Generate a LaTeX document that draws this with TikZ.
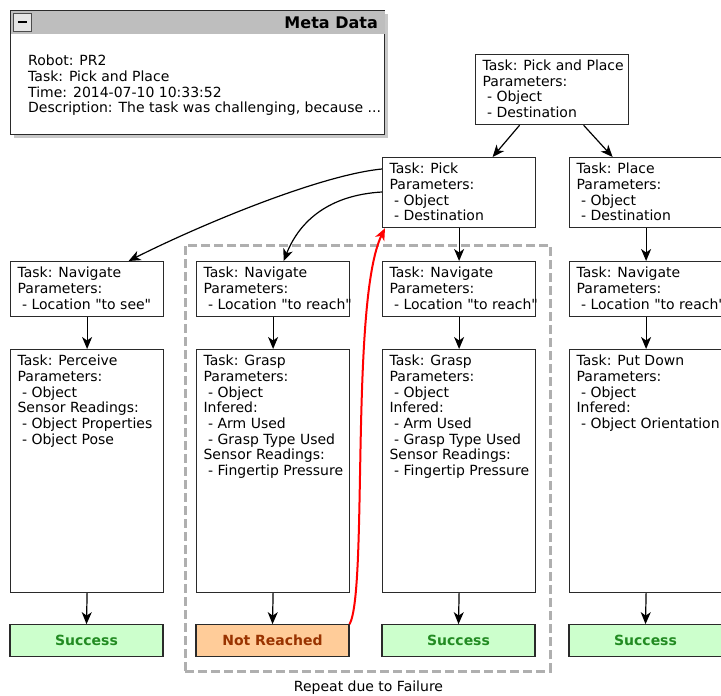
\documentclass[tikz,border=0pt]{standalone}
\usepackage{fontspec}
\setmainfont{DejaVu Sans}
\usetikzlibrary{arrows.meta}
\definecolor{succfill}{HTML}{CCFFCC}
\definecolor{succtext}{HTML}{228B22}
\definecolor{failfill}{HTML}{FFCC99}
\definecolor{failtext}{HTML}{993300}
\definecolor{bordercol}{HTML}{2A2A2A}
\definecolor{titlebar}{HTML}{BEBEBE}
\definecolor{shadowcol}{HTML}{C8C8C8}
\definecolor{framecol}{HTML}{AFAFAF}
\newcommand\taskbody[3]{\begin{minipage}[t][#1][t]{139bp}\raggedright\rule{0pt}{16bp}\mbox{#2}#3\end{minipage}}
\newcommand\bul[1]{\\\mbox{\hspace*{0.32em}- #1}}
\newcommand\hd[1]{\\\mbox{#1}}
\begin{document}
\begin{tikzpicture}[x=1bp,y=-1bp, font=\fontsize{14bp}{15.7bp}\selectfont,
 task/.style={draw=bordercol, line width=1.2bp, fill=white, inner xsep=7bp, inner ysep=0pt, anchor=north west},
 result/.style={draw=bordercol, line width=1.2bp, minimum width=153bp, minimum height=31.5bp, inner sep=0pt, font=\fontsize{14bp}{15.7bp}\selectfont\bfseries},
 success/.style={result, fill=succfill, text=succtext},
 failure/.style={result, fill=failfill, text=failtext},
 arr/.style={-{Stealth[length=12bp,width=10bp,inset=3.5bp]}, line width=1.2bp, draw=black},
 redarr/.style={-{Stealth[length=12bp,width=10bp,inset=3.5bp]}, line width=2bp, draw=red},
]
\useasboundingbox (0,0) rectangle (721,696);

% meta data panel
\fill[shadowcol] (14,14) rectangle (388,138);
\node[draw=bordercol, line width=1.2bp, fill=white, minimum width=374bp, minimum height=124bp, anchor=north west, inner sep=0pt] (meta) at (10,10) {};
\fill[titlebar] ([shift={(0.6bp,-0.6bp)}]meta.north west) rectangle ([shift={(-0.6bp,-24bp)}]meta.north east);
\node[draw=gray!60!black, line width=0.8bp, fill=gray!20, minimum size=18bp, inner sep=0pt, anchor=north west] (collapse) at (13,13) {};
\draw[line width=2bp] ([xshift=-4.5bp]collapse.center) -- ([xshift=4.5bp]collapse.center);
\node[anchor=base east, inner sep=0pt, font=\fontsize{16bp}{18bp}\selectfont\bfseries] (metatitle) at (378,28.3) {Meta Data};
\node[anchor=base west, inner sep=0pt] (metabody) at (28,65.7) {\begin{minipage}[t]{355bp}Robot: PR2\\Task: Pick and Place\\Time: 2014-07-10 10:33:52\\\mbox{Description: The task was challenging, because ...}\end{minipage}};

% repeat frame
\node[draw=framecol, line width=2.5bp, dash pattern=on 9bp off 4bp, minimum width=365bp, minimum height=426bp, anchor=north west, inner sep=0pt] (repeatframe) at (184,244) {};
\node (repeatlabel) at (368.5,688) {Repeat due to Failure};

% tasks
\node[task] (top) at (475,54) {\taskbody{70bp}{Task: Pick and Place}{\hd{Parameters:}\bul{Object}\bul{Destination}}};
\node[task] (pick) at (382,157) {\taskbody{70bp}{Task: Pick}{\hd{Parameters:}\bul{Object}\bul{Destination}}};
\node[task] (place) at (569,157) {\taskbody{70bp}{Task: Place}{\hd{Parameters:}\bul{Object}\bul{Destination}}};

\node[task] (nav1) at (10,261) {\taskbody{55bp}{Task: Navigate}{\hd{Parameters:}\bul{Location \textquotedbl to see\textquotedbl}}};
\node[task] (nav2) at (196,261) {\taskbody{55bp}{Task: Navigate}{\hd{Parameters:}\bul{Location \textquotedbl to reach\textquotedbl}}};
\node[task] (nav3) at (382,261) {\taskbody{55bp}{Task: Navigate}{\hd{Parameters:}\bul{Location \textquotedbl to reach\textquotedbl}}};
\node[task] (nav4) at (569,261) {\taskbody{55bp}{Task: Navigate}{\hd{Parameters:}\bul{Location \textquotedbl to reach\textquotedbl}}};

\node[task] (perceive) at (10,349) {\taskbody{243bp}{Task: Perceive}{\hd{Parameters:}\bul{Object}\hd{Sensor Readings:}\bul{Object Properties}\bul{Object Pose}}};
\node[task] (grasp1) at (196,349) {\taskbody{243bp}{Task: Grasp}{\hd{Parameters:}\bul{Object}\hd{Infered:}\bul{Arm Used}\bul{Grasp Type Used}\hd{Sensor Readings:}\bul{Fingertip Pressure}}};
\node[task] (grasp2) at (382,349) {\taskbody{243bp}{Task: Grasp}{\hd{Parameters:}\bul{Object}\hd{Infered:}\bul{Arm Used}\bul{Grasp Type Used}\hd{Sensor Readings:}\bul{Fingertip Pressure}}};
\node[task] (putdown) at (569,349) {\taskbody{243bp}{Task: Put Down}{\hd{Parameters:}\bul{Object}\hd{Infered:}\bul{Object Orientation}}};

\node[success] (res1) at (86.5,640.5) {Success};
\node[failure] (res2) at (272.5,640.5) {Not Reached};
\node[success] (res3) at (458.5,640.5) {Success};
\node[success] (res4) at (645.5,640.5) {Success};

% connectors
\draw[arr] ([xshift=-32.5bp]top.south) -- ([xshift=33.5bp]pick.north);
\draw[arr] ([xshift=31.5bp]top.south) -- ([xshift=-33.5bp]place.north);
\draw[arr] ([yshift=-12bp]pick.north west) .. controls (320,175) and (200,225) .. ([xshift=41.5bp]nav1.north);
\draw[arr] ([yshift=-35bp]pick.north west) .. controls (330,195) and (300,220) .. ([xshift=10.5bp]nav2.north);
\draw[arr] (pick.south) -- (nav3.north);
\draw[arr] (place.south) -- (nav4.north);
\draw[arr] (nav1.south) -- (perceive.north);
\draw[arr] (nav2.south) -- (grasp1.north);
\draw[arr] (nav3.south) -- (grasp2.north);
\draw[arr] (nav4.south) -- (putdown.north);
\draw[arr] (perceive.south) -- (res1.north);
\draw[arr] (grasp1.south) -- (res2.north);
\draw[arr] (grasp2.south) -- (res3.north);
\draw[arr] (putdown.south) -- (res4.north);
\draw[redarr] (res2.north east) .. controls (368,590) and (350,300) .. ([xshift=3bp]pick.south west);
\end{tikzpicture}
\end{document}
